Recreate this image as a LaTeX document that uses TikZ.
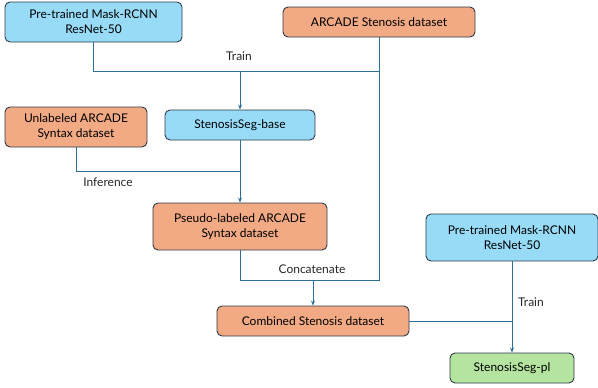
\documentclass[tikz,border=0pt]{standalone}
\usepackage{fontspec}
\setmainfont{Lato}
\usetikzlibrary{arrows.meta}
\definecolor{bxblue}{HTML}{97DBF7}
\definecolor{bxorange}{HTML}{F2AA84}
\definecolor{bxgreen}{HTML}{B4E4A0}
\definecolor{bxline}{HTML}{2A6F96}
\definecolor{bxborder}{HTML}{2E3A46}
\tikzset{
  box/.style={draw=bxborder, line width=0.9pt, rounded corners=5pt, align=center, inner sep=0pt, font=\fontsize{12}{15}\selectfont},
  bluebox/.style={box, fill=bxblue},
  orangebox/.style={box, fill=bxorange},
  greenbox/.style={box, fill=bxgreen},
  conn/.style={draw=bxline, line width=0.8pt},
  arr/.style={conn, -{Stealth[length=5pt,width=4pt]}},
  lbl/.style={font=\fontsize{12}{14}\selectfont, text=black!85}
}
\begin{document}
\begin{tikzpicture}[x=1pt,y=-1pt]
\useasboundingbox (0,0) rectangle (598,388);
\node[bluebox, minimum width=177pt, minimum height=40pt] (pt1) at (93.5,22) {Pre-trained Mask-RCNN\\ResNet-50};
\node[orangebox, minimum width=192pt, minimum height=30pt] (asd) at (379,22) {ARCADE Stenosis dataset};
\node[bluebox, minimum width=150pt, minimum height=30pt] (base) at (240,125) {StenosisSeg-base};
\node[orangebox, minimum width=142pt, minimum height=40pt] (unl) at (76,127) {Unlabeled ARCADE\\Syntax dataset};
\node[orangebox, minimum width=174pt, minimum height=47pt] (pseudo) at (240,226.5) {Pseudo-labeled ARCADE\\Syntax dataset};
\node[orangebox, minimum width=192pt, minimum height=30pt] (comb) at (313,321) {Combined Stenosis dataset};
\node[bluebox, minimum width=172pt, minimum height=47pt] (pt2) at (512,237.5) {Pre-trained Mask-RCNN\\ResNet-50};
\node[greenbox, minimum width=124pt, minimum height=30pt] (pl) at (512,368) {StenosisSeg-pl};

\coordinate (j1) at (pt1.south |- 0,71);
\coordinate (j2) at (asd.south |- 0,71);
\coordinate (j3) at (base.north |- 0,71);
\coordinate (j4) at (asd.south |- 0,280);
\coordinate (j5) at (pseudo.south |- 0,280);
\coordinate (j6) at (comb.north |- 0,280);
\coordinate (j7) at (unl.south |- 0,171);
\coordinate (j8) at (base.south |- 0,171);
\coordinate (j9) at (pt2.south |- comb.east);

\draw[conn] (pt1.south) -- (j1) -- (j2);
\draw[conn] (asd.south) -- (j4) -- (j5) -- (pseudo.south);
\draw[arr] (j3) -- (base.north);
\draw[conn] (unl.south) -- (j7) -- (j8);
\draw[arr] (base.south) -- (pseudo.north);
\draw[arr] (j6) -- (comb.north);
\draw[conn] (comb.east) -- (j9);
\draw[arr] (pt2.south) -- (pl.north);

\node[lbl] (ltrain1) at (239,56) {Train};
\node[lbl] (linf) at (108,182) {Inference};
\node[lbl] (lconc) at (312,269) {Concatenate};
\node[lbl] (ltrain2) at (531,302) {Train};
\end{tikzpicture}
\end{document}
